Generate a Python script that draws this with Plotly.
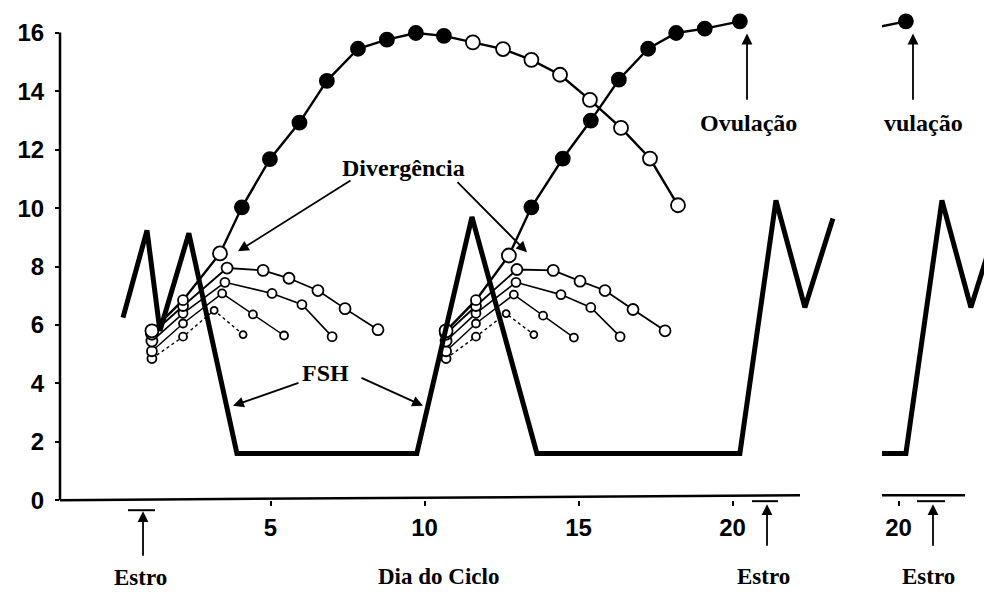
import plotly.graph_objects as go

# ---------------- data ----------------
# FSH (thick line)
fsh_x = [0.21, 0.99, 1.41, 2.35, 3.91, 9.75, 11.54, 13.65, 20.24, 21.41, 22.35, 23.26]
fsh_y = [6.25, 9.24, 5.80, 9.14, 1.60, 1.60, 9.70, 1.60, 1.60, 10.27, 6.60, 9.65]

# wave 1 – dominant follicle (filled = growing/dominant, open = other)
w1_dom_x = [1.15, 2.16, 3.36, 4.07, 4.98, 5.94, 6.83, 7.84, 8.78, 9.72, 10.63,
            11.57, 12.55, 13.47, 14.40, 15.37, 16.38, 17.32, 18.23]
w1_dom_y = [5.80, 6.85, 8.45, 10.03, 11.68, 12.93, 14.36, 15.46, 15.77, 16.00, 15.90,
            15.68, 15.45, 15.08, 14.57, 13.71, 12.75, 11.70, 10.10]
w1_dom_filled = [0, 0, 0, 1, 1, 1, 1, 1, 1, 1, 1, 0, 0, 0, 0, 0, 0, 0, 0]

# wave 1 – subordinate follicles
w1_b_x = [1.15, 2.16, 3.59, 4.76, 5.60, 6.54, 7.42, 8.49]
w1_b_y = [5.70, 6.65, 7.95, 7.87, 7.60, 7.18, 6.56, 5.84]
w1_c_x = [1.15, 2.16, 3.52, 5.05, 6.02, 7.00]
w1_c_y = [5.45, 6.40, 7.46, 7.08, 6.70, 5.60]
w1_d_x = [1.15, 2.16, 3.43, 4.43, 5.44]
w1_d_y = [5.10, 6.05, 7.08, 6.36, 5.64]
w1_e_x = [1.15, 2.16, 3.17, 4.11]
w1_e_y = [4.85, 5.60, 6.50, 5.67]

# wave 2 – dominant (ovulatory) follicle
w2_dom_x = [10.70, 11.67, 12.74, 13.47, 14.49, 15.40, 16.31, 17.26, 18.17, 19.10, 20.24]
w2_dom_y = [5.80, 6.85, 8.38, 10.03, 11.70, 13.00, 14.40, 15.46, 16.00, 16.15, 16.40]
w2_dom_filled = [0, 0, 0, 1, 1, 1, 1, 1, 1, 1, 1]

# wave 2 – subordinate follicles
w2_b_x = [10.70, 11.67, 13.00, 14.18, 15.05, 15.86, 16.77, 17.81]
w2_b_y = [5.70, 6.65, 7.90, 7.87, 7.50, 7.18, 6.53, 5.80]
w2_c_x = [10.70, 11.67, 12.97, 14.43, 15.40, 16.35]
w2_c_y = [5.45, 6.40, 7.46, 7.04, 6.60, 5.60]
w2_d_x = [10.70, 11.67, 12.90, 13.85, 14.85]
w2_d_y = [5.10, 6.05, 7.04, 6.32, 5.57]
w2_e_x = [10.70, 11.67, 12.65, 13.55]
w2_e_y = [4.85, 5.60, 6.39, 5.67]

y_ticks = [0, 2, 4, 6, 8, 10, 12, 14, 16]
x_ticks = [5, 10, 15, 20]
inset_ticks = [20]

# ---------------- layout helpers ----------------
FW, FH = 992, 600         # figure size
OFFX, OFFY, KY = 8, 8.5, 0.975   # page placement of the figure
X0, XS = 116.5, 30.8      # main panel: page pixel = X0 + XS * day
X0I = 282.5               # inset panel offset
Y0, YS = 499.0, 29.1      # page pixel = Y0 - YS * value
YTOP = 16.7


def pxx(p):
    return (p - OFFX) / FW


def pyy(p):
    return 1 - ((p - OFFY) / KY) / FH


fig = go.Figure()


def follicle(x, y, sizes, filled=None, dash="solid", width=1.6, xaxis="x", yaxis="y"):
    colors = ["black" if (filled and f) else "white" for f in (filled or [0] * len(x))]
    fig.add_trace(go.Scatter(
        x=x, y=y, mode="lines+markers", xaxis=xaxis, yaxis=yaxis,
        line=dict(color="black", width=width, dash=dash),
        marker=dict(size=sizes, color=colors, opacity=1,
                    line=dict(color="black", width=1.8)),
        showlegend=False, hoverinfo="skip"))


def sizes_for(n, start, mid, rest):
    return [start, mid] + [rest] * (n - 2)


for (ex, ey) in [(w1_e_x, w1_e_y), (w2_e_x, w2_e_y)]:
    follicle(ex, ey, sizes_for(len(ex), 9, 8, 7), dash="dot", width=1.4)
for (dx, dy) in [(w1_d_x, w1_d_y), (w2_d_x, w2_d_y)]:
    follicle(dx, dy, sizes_for(len(dx), 10, 8, 8), width=1.5)
for (cx, cy) in [(w1_c_x, w1_c_y), (w2_c_x, w2_c_y)]:
    follicle(cx, cy, sizes_for(len(cx), 11, 9, 9), width=1.6)
for (bx, by) in [(w1_b_x, w1_b_y), (w2_b_x, w2_b_y)]:
    follicle(bx, by, sizes_for(len(bx), 12, 10, 11), width=1.8)

follicle(w1_dom_x, w1_dom_y, sizes_for(len(w1_dom_x), 13, 10, 14), w1_dom_filled, width=2.4)
follicle(w2_dom_x, w2_dom_y, sizes_for(len(w2_dom_x), 13, 10, 14), w2_dom_filled, width=2.4)

fig.add_trace(go.Scatter(x=fsh_x, y=fsh_y, mode="lines",
                         line=dict(color="black", width=5), showlegend=False, hoverinfo="skip"))

# inset (right-hand repeated strip)
follicle(w2_dom_x, w2_dom_y, sizes_for(len(w2_dom_x), 13, 10, 14), w2_dom_filled,
         width=2.4, xaxis="x2", yaxis="y2")
fig.add_trace(go.Scatter(x=fsh_x, y=fsh_y, mode="lines", xaxis="x2", yaxis="y2",
                         line=dict(color="black", width=5), showlegend=False, hoverinfo="skip"))

y_dom = [pyy(Y0), pyy(Y0 - YS * YTOP)]
tickfont = dict(family="Liberation Sans", size=24, color="black", weight="bold")
fig.update_layout(
    width=FW, height=FH, margin=dict(l=0, r=0, t=0, b=0),
    paper_bgcolor="white", plot_bgcolor="rgba(0,0,0,0)",
    font=dict(family="Liberation Serif", color="black"),
    xaxis=dict(domain=[pxx(60), pxx(840)], range=[(60 - X0) / XS, (840 - X0) / XS],
               showgrid=False, zeroline=False, showline=False,
               tickvals=x_ticks, ticks="outside", ticklen=5, tickwidth=2, tickcolor="black",
               tickfont=tickfont, ticklabelstandoff=1, anchor="y"),
    yaxis=dict(domain=y_dom, range=[0, YTOP], showgrid=False, zeroline=False, showline=False,
               tickvals=y_ticks, ticks="outside", ticklen=4, tickwidth=2, tickcolor="black",
               tickfont=tickfont, ticklabelstandoff=6, anchor="x"),
    xaxis2=dict(domain=[pxx(882), 1.0],
                range=[(882 - X0I) / XS, (OFFX + FW - X0I) / XS],
                showgrid=False, zeroline=False, showline=False,
                tickvals=inset_ticks, ticks="outside", ticklen=5, tickwidth=2, tickcolor="black",
                tickfont=tickfont, ticklabelstandoff=1, anchor="y2"),
    yaxis2=dict(domain=y_dom, range=[0, YTOP], visible=False, anchor="x2"),
)

# axis lines and Estro bars (page pixel coordinates converted to paper)
line_segments = [
    (60, 499, 800, 494, 2.5),   # main x axis
    (60, 499, 60, 33, 2.5),     # main y axis
    (882, 494, 965, 494, 2.5),  # inset x axis
    (128, 509, 155, 509, 2),    # Estro bars
    (752, 500, 778, 500, 2),
    (917, 500, 945, 500, 2),
]
for x0, y0, x1, y1, w in line_segments:
    fig.add_shape(type="line", xref="paper", yref="paper",
                  x0=pxx(x0), y0=pyy(y0), x1=pxx(x1), y1=pyy(y1),
                  line=dict(color="black", width=w))

lab = dict(family="Liberation Serif", size=24, color="black", weight="bold")
lab_bottom = dict(family="Liberation Serif", size=23, color="black", weight="bold")
texts = [
    ("Divergência", 403, 168, "middle", lab),
    ("FSH", 325, 372, "middle", lab),
    ("Ovulação", 748, 123, "middle", lab),
    ("vulação", 923, 123, "middle", lab),
    ("Estro", 140, 590, "bottom", lab_bottom),
    ("Dia do Ciclo", 438, 589, "bottom", lab_bottom),
    ("Estro", 763, 589, "bottom", lab_bottom),
    ("Estro", 928, 589, "bottom", lab_bottom),
]
for t, x, y, ya, f in texts:
    fig.add_annotation(text=t, x=pxx(x), y=pyy(y), xref="paper", yref="paper",
                       showarrow=False, font=f, xanchor="center", yanchor=ya, borderpad=0)

# arrows: (head x, head y, tail x, tail y) in page pixels
arrows = [
    (238, 251, 352, 181),
    (527, 252, 456, 182),
    (233, 405, 300, 382),
    (423, 405, 360, 377),
    (747, 34, 747, 100),
    (913, 34, 913, 100),
    (143, 510, 143, 555),
    (767, 503, 767, 545),
    (933, 503, 933, 545),
]
for hx, hy, tx, ty in arrows:
    fig.add_annotation(x=pxx(hx), y=pyy(hy), xref="paper", yref="paper",
                       ax=tx - hx, ay=(ty - hy) / KY, axref="pixel", ayref="pixel",
                       text="", showarrow=True, arrowhead=2, arrowsize=1.2,
                       arrowwidth=1.8, arrowcolor="black")

fig.write_html("out.html")
